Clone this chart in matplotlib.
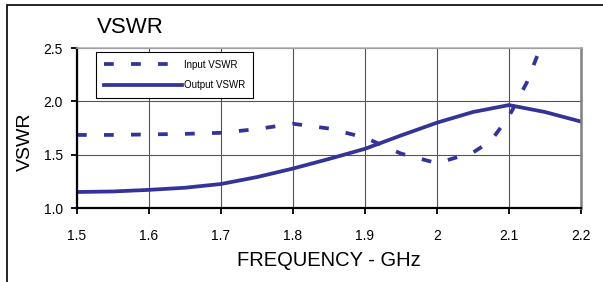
import matplotlib.pyplot as plt
from matplotlib.patches import Rectangle

# frequency points (GHz) and VSWR readings
freq_out = [1.5, 1.55, 1.6, 1.65, 1.7, 1.75, 1.8, 1.85, 1.9, 1.95, 2.0, 2.05, 2.1, 2.15, 2.2]
vswr_out = [1.15, 1.155, 1.17, 1.19, 1.225, 1.29, 1.37, 1.46, 1.555, 1.68, 1.80, 1.90, 1.965, 1.90, 1.81]

freq_in = [1.5, 1.55, 1.6, 1.65, 1.7, 1.75, 1.8, 1.85, 1.9, 1.95, 2.0, 2.05, 2.075, 2.1, 2.125, 2.14]
vswr_in = [1.685, 1.685, 1.69, 1.695, 1.705, 1.74, 1.79, 1.745, 1.66, 1.51, 1.42, 1.52, 1.63, 1.86, 2.18, 2.44]

xticks = [1.5, 1.6, 1.7, 1.8, 1.9, 2.0, 2.1, 2.2]
xticklabels = ['1.5', '1.6', '1.7', '1.8', '1.9', '2', '2.1', '2.2']
yticks = [1.0, 1.5, 2.0, 2.5]
yticklabels = ['1.0', '1.5', '2.0', '2.5']

plt.rcParams['font.family'] = ['Liberation Sans', 'DejaVu Sans']
blue = '#333399'

fig = plt.figure(figsize=(6.03, 2.82), dpi=100)
ax = fig.add_axes([77/603, 1 - 208/282, 504/603, 160/282])

ax.plot(freq_in, vswr_in, color=blue, lw=2.7, dashes=(2.6, 4.6), label='Input VSWR')
ax.plot(freq_out, vswr_out, color=blue, lw=2.7, label='Output VSWR')

ax.set_xlim(1.5, 2.2)
ax.set_ylim(1.0, 2.5)
ax.set_xticks(xticks)
ax.set_xticklabels(xticklabels, fontsize=10)
ax.set_yticks(yticks)
ax.set_yticklabels(yticklabels, fontsize=10)
ax.tick_params(axis='both', direction='out', length=4, width=1.3, color='black')
ax.tick_params(axis='x', pad=11)
ax.tick_params(axis='y', pad=6)
ax.grid(True, color='#555555', lw=0.8)
ax.set_axisbelow(True)

for s in ['left', 'bottom']:
    ax.spines[s].set_color('black')
    ax.spines[s].set_linewidth(1.6)
ax.spines['right'].set_color('#808080')
ax.spines['right'].set_linewidth(1.8)
ax.spines['top'].set_color('#b0b0b0')
ax.spines['top'].set_linewidth(1.2)

leg = ax.legend(loc='upper left', bbox_to_anchor=(19/504, 1 - 4/160), borderaxespad=0,
                fontsize=7, handlelength=8.0, handletextpad=0.2, labelspacing=1.1,
                borderpad=0.8, fancybox=False, framealpha=1, edgecolor='black')
leg.get_frame().set_linewidth(0.8)

fig.text(97/603, 1 - 33/282, 'VSWR', fontsize=16, ha='left', va='baseline')
fig.text(329/603, 1 - 261/282, 'FREQUENCY - GHz', fontsize=14.5, ha='center', va='center')
fig.text(25/603, 1 - 142/282, 'VSWR', fontsize=14, rotation=90, ha='center', va='center')

# outer frame (top and left edges visible)
fig.patches.append(Rectangle((7/603, -0.1), 1.1, 1 - 5/282 + 0.1, transform=fig.transFigure,
                             fill=False, edgecolor='black', lw=1.2))

fig.savefig('out.png', dpi=100)
